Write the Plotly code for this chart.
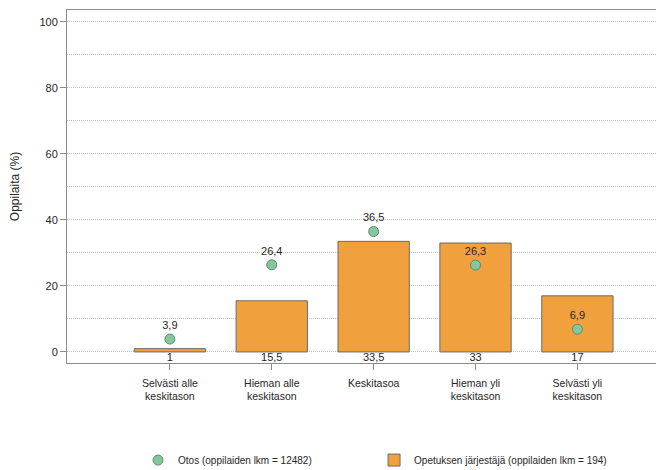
import plotly.graph_objects as go

categories = ["Selvästi alle<br>keskitason", "Hieman alle<br>keskitason", "Keskitasoa",
              "Hieman yli<br>keskitason", "Selvästi yli<br>keskitason"]
bar_values = [1, 15.5, 33.5, 33, 17]
dot_values = [3.9, 26.4, 36.5, 26.3, 6.9]
bar_name = "Opetuksen järjestäjä (oppilaiden lkm = 194)"
dot_name = "Otos (oppilaiden lkm = 12482)"
y_ticks = [0, 20, 40, 60, 80, 100]

def fi(v):
    s = ("%g" % v)
    return s.replace(".", ",")

xs = list(range(len(categories)))
FONT = "Liberation Sans, Arial, sans-serif"
TXT = "#262626"

fig = go.Figure()
fig.add_trace(go.Bar(
    x=xs, y=bar_values, name=bar_name, width=0.7,
    marker=dict(color="#F0A03C", line=dict(color="#6b6b6b", width=1)),
    showlegend=True,
))
# bar value labels just below the baseline
fig.add_trace(go.Scatter(
    x=xs, y=[-2.0] * len(xs), mode="text", text=[fi(v) for v in bar_values],
    textfont=dict(family=FONT, size=11, color=TXT), showlegend=False, hoverinfo="skip",
))
fig.add_trace(go.Scatter(
    x=xs, y=dot_values, name=dot_name, mode="markers+text",
    text=[fi(v) for v in dot_values], textposition="top center",
    textfont=dict(family=FONT, size=11, color=TXT),
    marker=dict(color="#85C79C", size=10, line=dict(color="#5b8c6c", width=1)),
))

# page body has an 8px margin, so the figure is sized/offset to compensate
fig.update_layout(
    width=656, height=462,
    margin=dict(l=59, r=0, t=2, b=107, autoexpand=False),
    plot_bgcolor="white", paper_bgcolor="white",
    font=dict(family=FONT, size=11, color=TXT),
    showlegend=True,
    legend=dict(orientation="h", x=0.119, xanchor="left", y=-0.275, yanchor="middle",
                traceorder="reversed", entrywidth=191, entrywidthmode="pixels",
                font=dict(size=10, color=TXT)),
    bargap=0.3,
)
fig.update_xaxes(
    range=[-1.01, 4.85], tickvals=xs, ticktext=categories, automargin=False,
    showline=True, linecolor="#8c8c8c", linewidth=1, mirror=True,
    ticks="outside", ticklen=6, tickcolor="#8c8c8c", showgrid=False, zeroline=False,
    tickfont=dict(size=10.5, color=TXT), ticklabelstandoff=4,
)
fig.update_yaxes(
    range=[-3.35, 103.6], tickvals=y_ticks, automargin=False,
    showline=True, linecolor="#8c8c8c", linewidth=1,
    ticks="outside", ticklen=6, tickcolor="#8c8c8c",
    showgrid=True, gridcolor="#c0c0c0", griddash="1px,1px", gridwidth=1, zeroline=False,
    minor=dict(dtick=10, tick0=0, showgrid=True, gridcolor="#c0c0c0", griddash="1px,1px", ticks=""),
    title=dict(text="Oppilaita (%)", font=dict(size=12, color=TXT), standoff=18),
    tickfont=dict(size=11, color=TXT),
)
fig.write_html("out.html")
